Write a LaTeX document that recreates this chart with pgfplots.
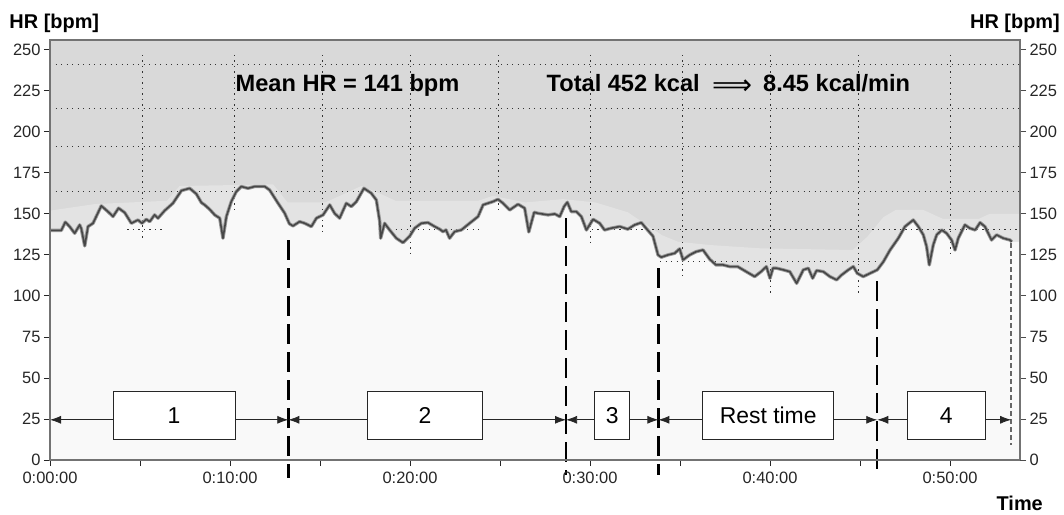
\documentclass[border=0pt]{standalone}
\usepackage{pgfplots}
\pgfplotsset{compat=1.18}
\usepackage{pgfplotstable}
\usepackage{fontspec}
\setmainfont{Liberation Sans}
\newfontfamily\dejavu{DejaVu Sans}
\usetikzlibrary{arrows.meta}
\definecolor{bggray}{HTML}{D9D9D9}
\definecolor{bandgray}{HTML}{E3E3E3}
\definecolor{under}{HTML}{F9F9F9}
\pgfplotstableread{
t v
0.00 140
0.63 140
0.85 145
1.09 142.3
1.37 138.2
1.65 143.3
1.74 141
1.93 130.5
2.11 142.3
2.39 144.3
2.85 154.9
3.22 151.4
3.50 148.4
3.81 153.5
4.15 150.8
4.52 144.3
4.89 146.3
5.11 144.3
5.35 146.7
5.54 145.3
5.81 149.4
6.00 147.4
6.37 152
6.83 156.5
7.30 164.2
7.76 165.6
8.13 162.2
8.41 156.9
8.59 155.5
8.87 152.8
9.15 149.4
9.43 147.4
9.61 135.2
9.80 148.4
10.07 157.5
10.35 163.6
10.63 166.7
11.00 165.6
11.37 166.7
11.93 166.7
12.20 164.6
12.67 156.5
13.04 150.4
13.30 144
13.50 142.7
13.87 145.3
14.15 144.3
14.52 142.3
14.80 147.4
15.17 149.4
15.54 155.5
15.81 150.4
16.09 147.4
16.46 156.5
16.74 154.5
17.02 157.5
17.44 165.6
17.85 162.6
18.13 158.5
18.32 145.3
18.37 135.2
18.59 144.3
18.87 140.2
19.24 135.2
19.61 132.5
19.98 136.4
20.26 141.3
20.63 144.3
21.00 144.7
21.37 142.3
21.65 140.7
21.83 139.2
22.00 140.2
22.20 135.2
22.48 139.2
22.85 140.2
23.31 144.3
23.78 148.4
24.06 155.5
24.33 156.5
24.61 157.5
24.89 158.9
25.17 156.5
25.54 152.4
26.00 155.9
26.37 153.5
26.60 139
26.75 145
26.90 151
27.10 150.4
27.67 149.4
28.04 150
28.32 148.4
28.56 154.5
28.74 157.1
28.96 151.4
29.24 151.4
29.52 148.4
29.80 140.2
30.17 146.7
30.54 144.3
30.81 140.2
31.18 141.3
31.65 142.3
32.10 140.7
32.48 143.3
32.85 144.7
33.20 140.2
33.50 136.4
33.78 125
33.96 123.6
34.33 125
34.70 126
34.98 128.7
35.17 122
35.54 125
35.90 127
36.28 128
36.65 122.4
37.00 118.9
37.40 118.9
37.76 117.9
38.20 117.9
38.68 114.8
39.15 111.8
39.50 114.8
39.80 117.9
40.00 110.8
40.17 117
40.37 116.9
40.74 115.9
41.10 114.8
41.48 107.7
41.85 115.9
42.13 116.9
42.37 110.8
42.59 115.5
42.96 114.8
43.33 111.8
43.70 109.8
43.98 112.8
44.35 115.9
44.63 117.9
44.85 113.8
45.18 111.8
45.56 113.8
45.96 115.9
46.30 120.9
46.67 128
47.13 135.2
47.50 142.3
47.96 146.3
48.24 142.3
48.52 137.2
48.70 130.1
48.85 118.9
49.07 131.1
49.26 137.2
49.54 140.2
49.81 138.2
50.09 134.1
50.28 128
50.46 135.2
50.83 143.3
51.10 141.3
51.40 140.2
51.67 144.7
51.94 142.3
52.31 134.1
52.59 137.2
52.96 135.2
53.33 134.1
53.43 133
}\hrdata
\pgfplotstableread{
t v
0.00 140
0.63 140
0.85 145
1.09 142.3
1.37 138.2
1.65 143.3
1.74 141
1.93 130.5
2.11 142.3
2.39 144.3
2.85 154.9
3.22 151.4
3.50 148.4
3.81 153.5
4.15 150.8
4.52 144.3
4.89 146.3
5.11 144.3
5.35 146.7
5.54 145.3
5.81 149.4
6.00 147.4
6.37 152
6.83 156.5
7.30 164.2
7.76 165.6
8.13 162.2
8.41 156.9
8.59 155.5
8.87 152.8
9.15 149.4
9.43 147.4
9.61 135.2
9.80 148.4
10.07 157.5
10.35 163.6
10.63 166.7
11.00 165.6
11.37 166.7
11.93 166.7
12.20 164.6
12.67 156.5
13.04 150.4
13.30 144
13.50 142.7
13.87 145.3
14.15 144.3
14.52 142.3
14.80 147.4
15.17 149.4
15.54 155.5
15.81 150.4
16.09 147.4
16.46 156.5
16.74 154.5
17.02 157.5
17.44 165.6
17.85 162.6
18.13 158.5
18.32 145.3
18.37 135.2
18.59 144.3
18.87 140.2
19.24 135.2
19.61 132.5
19.98 136.4
20.26 141.3
20.63 144.3
21.00 144.7
21.37 142.3
21.65 140.7
21.83 139.2
22.00 140.2
22.20 135.2
22.48 139.2
22.85 140.2
23.31 144.3
23.78 148.4
24.06 155.5
24.33 156.5
24.61 157.5
24.89 158.9
25.17 156.5
25.54 152.4
26.00 155.9
26.37 153.5
26.60 139
26.75 145
26.90 151
27.10 150.4
27.67 149.4
28.04 150
28.32 148.4
28.56 154.5
28.74 157.1
28.96 151.4
29.24 151.4
29.52 148.4
29.80 140.2
30.17 146.7
30.54 144.3
30.81 140.2
31.18 141.3
31.65 142.3
32.10 140.7
32.48 143.3
32.85 144.7
33.20 140.2
33.50 136.4
33.78 125
33.96 123.6
34.33 125
34.70 126
34.98 128.7
35.17 122
35.54 125
35.90 127
36.28 128
36.65 122.4
37.00 118.9
37.40 118.9
37.76 117.9
38.20 117.9
38.68 114.8
39.15 111.8
39.50 114.8
39.80 117.9
40.00 110.8
40.17 117
40.37 116.9
40.74 115.9
41.10 114.8
41.48 107.7
41.85 115.9
42.13 116.9
42.37 110.8
42.59 115.5
42.96 114.8
43.33 111.8
43.70 109.8
43.98 112.8
44.35 115.9
44.63 117.9
44.85 113.8
45.18 111.8
45.56 113.8
45.96 115.9
46.30 120.9
46.67 128
47.13 135.2
47.50 142.3
47.96 146.3
48.24 142.3
48.52 137.2
48.70 130.1
48.85 118.9
49.07 131.1
49.26 137.2
49.54 140.2
49.81 138.2
50.09 134.1
50.28 128
50.46 135.2
50.83 143.3
51.10 141.3
51.40 140.2
51.67 144.7
51.94 142.3
52.31 134.1
52.59 137.2
52.96 135.2
53.33 134.1
53.43 133
53.89 133
}\hrfill
\pgfplotstableread{
t v
0.0 152
2.5 156
6.5 158
7.2 167
12.4 168
13.2 157
15.3 157
17.3 167
18.2 163
19.2 158
23.8 158
24.6 161
26.4 157
28.5 159
30.3 157
32.1 151
34.0 137
34.9 133
36.7 131
39.5 129
44.6 128
45.4 136
46.3 148
47.0 152.5
48.5 152.5
49.6 147
51.6 147
52.2 150
53.89 150
}\band
\tikzset{
  gridl/.style={black!80, line width=0.9bp, dash pattern=on 1.3bp off 4.2bp},
  phase/.style={black, line width=2.4bp, dash pattern=on 20bp off 8bp},
  harr/.style={-{Latex[length=11bp,width=8bp]}, line width=0.8bp, black!85},
  pbox/.style={draw=black!85, fill=white, line width=1bp, inner sep=0pt, minimum height=48bp, font=\fontsize{23}{23}\selectfont},
  btxt/.style={font=\bfseries\fontsize{23.7}{24}\selectfont, inner sep=0pt},
}
\begin{document}
\begin{tikzpicture}
\begin{axis}[name=ax,
  scale only axis, width=970bp, height=420bp,
  xmin=0, xmax=53.89, ymin=0, ymax=256,
  clip=false, axis on top,
  axis background/.style={fill=bggray},
  axis line style={draw=black!55, line width=1.5bp},
  tick align=outside, major tick length=6bp,
  tick style={black!85, line width=0.9bp},
  xtick={0,5,...,50},
  xticklabels={0:00:00,,0:10:00,,0:20:00,,0:30:00,,0:40:00,,0:50:00},
  xtick pos=bottom, ytick pos=left,
  ytick={0,25,...,250},
  every tick label/.append style={font=\fontsize{16.5}{17}\selectfont, text=black!85},
  /pgf/number format/assume math mode=true,
  xticklabel style={yshift=-2bp},
]
% light band
\addplot[draw=none, fill=bandgray] table[x=t,y=v] {\band} \closedcycle;
% horizontal grid (under fill)
\addplot[gridl] coordinates {(0,241) (53.89,241)};
\addplot[gridl] coordinates {(0,214.5) (53.89,214.5)};
\addplot[gridl] coordinates {(0,191) (53.89,191)};
\addplot[gridl] coordinates {(0,163.6) (53.89,163.6)};
% area under the HR curve
\addplot[draw=none, fill=under] table[x=t,y=v] {\hrfill} \closedcycle;
% grid parts on top
\addplot[gridl] coordinates {(5.15,247) (5.15,135)};
\addplot[gridl] coordinates {(10.25,247) (10.25,151)};
\addplot[gridl] coordinates {(15.15,247) (15.15,138)};
\addplot[gridl] coordinates {(20.05,247) (20.05,125)};
\addplot[gridl] coordinates {(24.9,247) (24.9,150)};
\addplot[gridl] coordinates {(30.05,247) (30.05,133)};
\addplot[gridl] coordinates {(35.15,247) (35.15,110)};
\addplot[gridl] coordinates {(40.05,247) (40.05,100)};
\addplot[gridl] coordinates {(44.9,247) (44.9,101)};
\addplot[gridl] coordinates {(50.05,247) (50.05,125)};
\addplot[gridl] coordinates {(4.3,140.5) (6.2,140.5)};
\addplot[gridl] coordinates {(18.9,140.5) (23.9,140.5)};
\addplot[gridl] coordinates {(29.8,140.5) (53.89,140.5)};
\addplot[gridl] coordinates {(33.9,121) (46,121)};
% HR curve
\addplot[black!40, line width=3.4bp, line join=round] table[x=t,y=v] {\hrdata};
\addplot[black!72, line width=1.6bp, line join=round] table[x=t,y=v] {\hrdata};
% phase boundaries
\addplot[phase] coordinates {(13.24,134) (13.24,-11)};
\addplot[phase] coordinates {(28.67,147.5) (28.67,-9)};
\addplot[phase] coordinates {(33.8,117) (33.8,-9)};
\addplot[phase] coordinates {(45.96,109) (45.96,-9)};
\addplot[black!60, line width=2.4bp, dash pattern=on 5bp off 3bp] coordinates {(53.4,132) (53.4,9)};
% arrows
\draw[harr] (axis cs:3.5,24.5) -- (axis cs:0,24.5);
\draw[harr] (axis cs:10.17,24.5) -- (axis cs:13.24,24.5);
\draw[harr] (axis cs:17.65,24.5) -- (axis cs:13.24,24.5);
\draw[harr] (axis cs:24.02,24.5) -- (axis cs:28.67,24.5);
\draw[harr] (axis cs:30.28,24.5) -- (axis cs:28.67,24.5);
\draw[harr] (axis cs:32.18,24.5) -- (axis cs:33.8,24.5);
\draw[harr] (axis cs:36.26,24.5) -- (axis cs:33.8,24.5);
\draw[harr] (axis cs:43.56,24.5) -- (axis cs:45.96,24.5);
\draw[harr] (axis cs:47.63,24.5) -- (axis cs:45.96,24.5);
\draw[harr] (axis cs:51.94,24.5) -- (axis cs:53.4,24.5);
% boxes
\node[pbox, minimum width=122bp] at (axis cs:6.89,27) {1};
\node[pbox, minimum width=114.6bp] at (axis cs:20.83,27) {2};
\node[pbox, minimum width=34.3bp] at (axis cs:31.23,27) {3};
\node[pbox, minimum width=131.3bp] at (axis cs:39.9,27) {Rest time};
\node[pbox, minimum width=77.7bp] at (axis cs:49.79,27) {4};
% texts
\node[anchor=base, btxt] at (axis cs:16.53,224.4) {Mean HR = 141 bpm};
\node[anchor=base east, btxt] at (axis cs:36.11,224.4) {Total 452 kcal};
\node[anchor=base, inner sep=0pt, font=\dejavu\fontsize{28}{28}\selectfont] at (axis cs:37.9,222.8) {⟹};
\node[anchor=base west, btxt] at (axis cs:39.61,224.4) {8.45 kcal/min};
% dark left and bottom axis lines
\draw[black, line width=2.6bp] (rel axis cs:0,1) -- (rel axis cs:0,0) -- (rel axis cs:1,0);
% axis titles
\node[anchor=base west, font=\bfseries\fontsize{20}{20}\selectfont, inner sep=0pt] at ([xshift=-40.7bp, yshift=11bp]rel axis cs:0,1) {HR [bpm]};
\node[anchor=base east, font=\bfseries\fontsize{20}{20}\selectfont, inner sep=0pt] at ([xshift=40bp, yshift=11bp]rel axis cs:1,1) {HR [bpm]};
\node[anchor=base east, font=\bfseries\fontsize{20}{20}\selectfont, inner sep=0pt] at ([xshift=23bp, yshift=-50bp]rel axis cs:1,0) {Time};
\end{axis}
\begin{axis}[
  scale only axis, width=970bp, height=420bp,
  xmin=0, xmax=53.89, ymin=0, ymax=256,
  hide x axis, axis y line*=right,
  y axis line style={draw=black!55, line width=1.5bp},
  tick align=outside, major tick length=6bp,
  tick style={black!70, line width=0.9bp},
  ytick={0,25,...,250},
  every tick label/.append style={font=\fontsize{16.5}{17}\selectfont, text=black!85},
  /pgf/number format/assume math mode=true,
]
\end{axis}
\pgfresetboundingbox
\path[use as bounding box] ([shift={(-50bp,-55bp)}]ax.south west) rectangle ([shift={(44bp,40bp)}]ax.north east);
\end{tikzpicture}
\end{document}
